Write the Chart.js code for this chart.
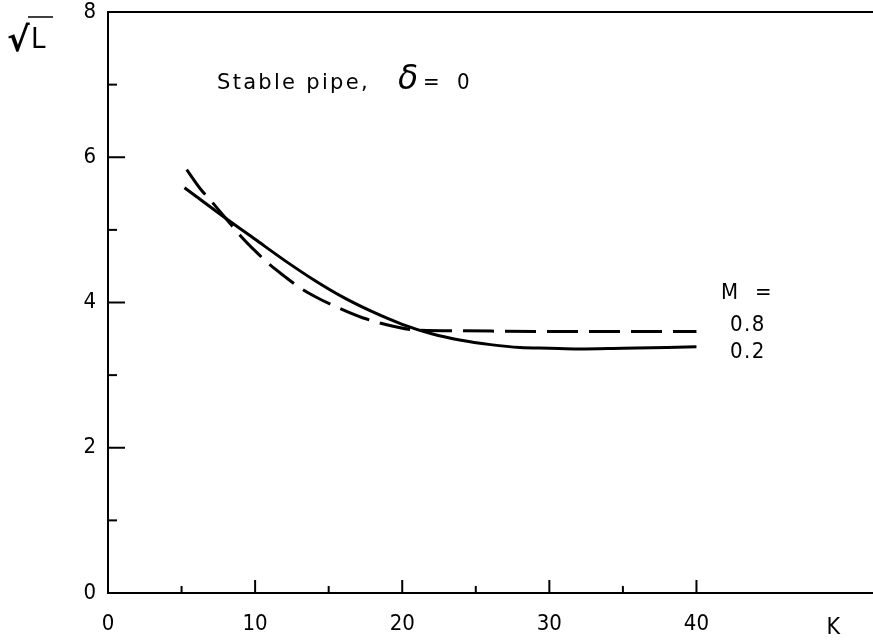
<!DOCTYPE html>
<html>
<head>
<meta charset="utf-8">
<title>Stable pipe, δ = 0</title>
<script src="https://cdn.jsdelivr.net/npm/chart.js@4/dist/chart.umd.min.js"></script>
<style>
  html, body { margin: 0; padding: 0; background: #fff; }
  #wrap { width: 873px; height: 641px; position: relative; }
</style>
</head>
<body>
<div id="wrap"><canvas id="c" width="873" height="641"></canvas></div>
<script>
// Curve M = 0.2 (solid)
const kSolid = [5.2, 6, 8, 10, 12, 14, 16, 18, 20, 22, 24, 26, 28, 30, 32, 35, 38, 40];
const rootLSolid = [5.58, 5.46, 5.16, 4.87, 4.58, 4.31, 4.07, 3.87, 3.70, 3.57, 3.48, 3.42, 3.38, 3.37, 3.36, 3.37, 3.38, 3.39];

// Curve M = 0.8 (dashed)
const kDashed = [5.35, 6.3, 7, 8, 9, 10, 11, 12, 13, 14, 15.4, 17.3, 19.7, 21, 24, 30, 40];
const rootLDashed = [5.83, 5.56, 5.40, 5.16, 4.92, 4.71, 4.52, 4.36, 4.21, 4.09, 3.95, 3.79, 3.66, 3.62, 3.61, 3.60, 3.60];

// Axis ticks
const xMajorTicks = [0, 10, 20, 30, 40];
const xMinorTicks = [5, 15, 25, 35];
const yMajorTicks = [0, 2, 4, 6, 8];
const yMinorTicks = [1, 3, 5, 7];

// Text
const seriesLabels = ['0.8', '0.2'];
const legendHeader = ['M', '='];
const titleText = 'Stable pipe,';
const deltaText = 'δ';
const deltaValue = ['=', '0'];
const xAxisName = 'K';
const yAxisName = '√L';

const INK = '#000';
const FONT = "'DejaVu Sans', 'Liberation Sans', sans-serif";
const NARROW = "'Liberation Sans Narrow', 'DejaVu Sans Condensed', 'DejaVu Sans', sans-serif";

const toPoints = (xs, ys) => xs.map((x, i) => ({ x: x, y: ys[i] }));

// Inward tick marks, top frame line and the annotations
const decorations = {
  id: 'decorations',
  afterDraw(chart) {
    const ctx = chart.ctx;
    const xs = chart.scales.x, ys = chart.scales.y;
    const { left, right, top, bottom } = chart.chartArea;
    const spacing = s => { if ('letterSpacing' in ctx) ctx.letterSpacing = s; };
    ctx.save();
    ctx.strokeStyle = INK;
    ctx.fillStyle = INK;
    ctx.lineCap = 'butt';

    // top frame line
    ctx.lineWidth = 2;
    ctx.beginPath();
    ctx.moveTo(left, top);
    ctx.lineTo(right, top);
    ctx.stroke();

    // x ticks
    xMajorTicks.filter(v => v !== 0).forEach(v => {
      const p = xs.getPixelForValue(v);
      ctx.beginPath(); ctx.moveTo(p, bottom); ctx.lineTo(p, bottom - 13); ctx.stroke();
    });
    xMinorTicks.forEach(v => {
      const p = xs.getPixelForValue(v);
      ctx.beginPath(); ctx.moveTo(p, bottom); ctx.lineTo(p, bottom - 7); ctx.stroke();
    });
    // y ticks
    yMajorTicks.filter(v => v !== 0 && v !== 8).forEach(v => {
      const p = ys.getPixelForValue(v);
      ctx.beginPath(); ctx.moveTo(left, p); ctx.lineTo(left + 17, p); ctx.stroke();
    });
    yMinorTicks.forEach(v => {
      const p = ys.getPixelForValue(v);
      ctx.beginPath(); ctx.moveTo(left, p); ctx.lineTo(left + 9, p); ctx.stroke();
    });

    // axis names
    ctx.textBaseline = 'alphabetic';
    ctx.textAlign = 'center';
    ctx.font = '23px ' + NARROW;
    ctx.fillText(xAxisName, xs.getPixelForValue(49.3), 634);

    ctx.textAlign = 'left';
    ctx.font = 'bold 34px ' + FONT;
    ctx.fillText(yAxisName.charAt(0), 7, 51);
    ctx.font = '29px ' + NARROW;
    ctx.fillText(yAxisName.charAt(1), 31, 48);
    ctx.lineWidth = 1.5;
    ctx.beginPath(); ctx.moveTo(28, 17); ctx.lineTo(53, 17); ctx.stroke();

    // title
    ctx.font = '21px ' + FONT;
    spacing('2.3px');
    ctx.fillText(titleText, 217, 89);
    spacing('0px');
    ctx.font = 'italic 33px ' + FONT;
    ctx.fillText(deltaText, 398, 89);
    ctx.font = '22px ' + NARROW;
    ctx.fillText(deltaValue[0], 423, 89);
    ctx.fillText(deltaValue[1], 457, 89);

    // curve labels
    ctx.font = '22px ' + NARROW;
    spacing('1px');
    ctx.fillText(legendHeader[0], 721, 299);
    ctx.fillText(legendHeader[1], 755, 299);
    spacing('1.5px');
    ctx.fillText(seriesLabels[0], 730, 331);
    ctx.fillText(seriesLabels[1], 730, 358);
    ctx.restore();
  }
};

new Chart(document.getElementById('c'), {
  type: 'line',
  data: {
    datasets: [
      {
        label: 'M = ' + seriesLabels[0],
        data: toPoints(kDashed, rootLDashed),
        borderColor: INK,
        borderWidth: 3,
        borderDash: [31, 11],
        pointRadius: 0,
        fill: false,
        cubicInterpolationMode: 'monotone'
      },
      {
        label: 'M = ' + seriesLabels[1],
        data: toPoints(kSolid, rootLSolid),
        borderColor: INK,
        borderWidth: 3,
        pointRadius: 0,
        fill: false,
        cubicInterpolationMode: 'monotone'
      }
    ]
  },
  options: {
    responsive: false,
    animation: false,
    events: [],
    layout: { padding: { top: 12, right: 0, left: 0, bottom: 0 } },
    plugins: {
      legend: { display: false },
      tooltip: { enabled: false },
      title: { display: false }
    },
    scales: {
      x: {
        type: 'linear',
        min: 0,
        max: 52,
        afterBuildTicks: axis => { axis.ticks = xMajorTicks.map(v => ({ value: v })); },
        afterFit: axis => { axis.height = 48; axis.paddingLeft = 0; axis.paddingRight = 0; },
        grid: { display: false, drawTicks: false },
        border: { display: true, color: INK, width: 2 },
        ticks: {
          color: INK,
          padding: 20,
          maxRotation: 0,
          autoSkip: false,
          font: { family: NARROW, size: 22, lineHeight: 1 },
          callback: v => String(v)
        }
      },
      y: {
        type: 'linear',
        min: 0,
        max: 8,
        afterBuildTicks: axis => { axis.ticks = yMajorTicks.map(v => ({ value: v })); },
        afterFit: axis => { axis.width = 108; axis.paddingTop = 0; axis.paddingBottom = 0; },
        grid: { display: false, drawTicks: false },
        border: { display: true, color: INK, width: 2 },
        ticks: {
          color: INK,
          padding: 12,
          font: { family: NARROW, size: 22, lineHeight: 1 },
          callback: v => String(v)
        }
      }
    }
  },
  plugins: [decorations]
});
</script>
</body>
</html>
